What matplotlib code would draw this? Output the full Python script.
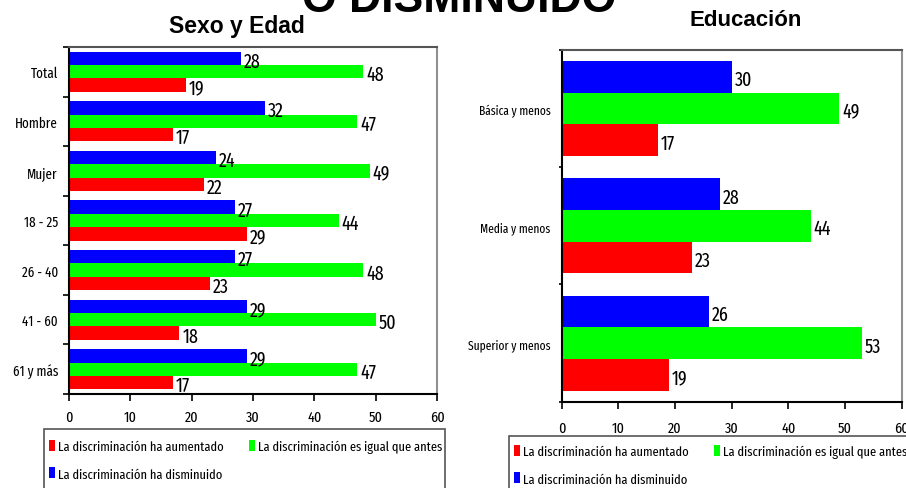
import numpy as np
import matplotlib.pyplot as plt
from matplotlib.patches import Rectangle
from matplotlib.ticker import FixedLocator

# data
sexo_cats = ["Total", "Hombre", "Mujer", "18 - 25", "26 - 40", "41 - 60", "61 y más"]
sexo_aumentado = [19, 17, 22, 29, 23, 18, 17]
sexo_igual = [48, 47, 49, 44, 48, 50, 47]
sexo_disminuido = [28, 32, 24, 27, 27, 29, 29]

edu_cats = ["Básica y menos", "Media y menos", "Superior y menos"]
edu_aumentado = [17, 23, 19]
edu_igual = [49, 44, 53]
edu_disminuido = [30, 28, 26]

series_names = ["La discriminación ha aumentado",
                "La discriminación es igual que antes",
                "La discriminación ha disminuido"]
x_ticks = [0, 10, 20, 30, 40, 50, 60]

RED, GREEN, BLUE = "#ff0000", "#00ff00", "#0000ff"
NARROW = ["Fira Sans Extra Condensed", "Barlow Condensed", "Archivo Narrow",
          "IBM Plex Sans Condensed", "DejaVu Sans"]
BOLD = ["Liberation Sans", "DejaVu Sans"]


def draw_panel(ax, cats, aum, igu, dis, cat_size, val_size, tick_len, xpad):
    n = len(cats)
    y = np.arange(n)
    h = 0.27
    bars_r = ax.barh(y + h, aum, height=h, color=RED)
    bars_g = ax.barh(y, igu, height=h, color=GREEN)
    bars_b = ax.barh(y - h, dis, height=h, color=BLUE)
    for bars in (bars_b, bars_g, bars_r):
        for b in bars:
            w = b.get_width()
            ax.annotate(f"{w:g}", (w, b.get_y() + b.get_height() / 2),
                        xytext=(2, -2), textcoords="offset points",
                        ha="left", va="center", fontsize=val_size, family=NARROW)
    ax.set_xlim(0, 60)
    ax.set_ylim(n - 0.5, -0.5)
    ax.set_xticks(x_ticks)
    ax.set_xticklabels([str(t) for t in x_ticks], family=NARROW, fontsize=11)
    ax.tick_params(axis="x", length=5, width=1.2, pad=xpad, direction="out")
    ax.set_yticks(y)
    ax.set_yticklabels(cats, family=NARROW, fontsize=cat_size)
    ax.tick_params(axis="y", which="major", length=0, pad=8)
    ax.yaxis.set_minor_locator(FixedLocator(np.arange(n + 1) - 0.5))
    ax.tick_params(axis="y", which="minor", length=tick_len, width=1.2, direction="out")
    ax.spines["left"].set_linewidth(1.5)
    ax.spines["bottom"].set_linewidth(1.5)
    ax.spines["top"].set_color("#555555")
    ax.spines["top"].set_linewidth(1.5)
    ax.spines["right"].set_color("#909090")
    ax.spines["right"].set_linewidth(1.5)
    return bars_r, bars_g, bars_b


fig = plt.figure(figsize=(9.06, 4.89), dpi=100)
W, H = 906.0, 489.0

ax1 = fig.add_axes([0.0762, 0.1922, 0.4062, 0.7096])
r1, g1, b1 = draw_panel(ax1, sexo_cats, sexo_aumentado, sexo_igual, sexo_disminuido,
                        10.2, 14, 4, 6)
fig.text(0.261, 0.945, "Sexo y Edad", ha="center", va="center",
         fontsize=16.5, fontweight="bold", family=BOLD)

ax2 = fig.add_axes([0.620, 0.1765, 0.3753, 0.7192])
r2, g2, b2 = draw_panel(ax2, edu_cats, edu_aumentado, edu_igual, edu_disminuido,
                        9, 14, 2, 9)
fig.text(0.823, 0.958, "Educación", ha="center", va="center",
         fontsize=16, fontweight="bold", family=BOLD)

# partly cut-off main title at the very top
fig.text(0.507, 0.975, "O DISMINUIDO", ha="center", va="baseline",
         fontsize=32, fontweight="bold", family=BOLD)

legend_kw = dict(ncol=2, frameon=False,
                 handlelength=0.44, handleheight=0.88, handletextpad=0.22,
                 columnspacing=1.9, labelspacing=1.07, borderpad=0,
                 borderaxespad=0, prop={"family": NARROW, "size": 9.7})
order = [0, 2, 1]

fig.legend([(r1, g1, b1)[i] for i in order], [series_names[i] for i in order],
           loc="upper left", bbox_to_anchor=(49 / W, 1 - 441 / H), **legend_kw)
fig.legend([(r2, g2, b2)[i] for i in order], [series_names[i] for i in order],
           loc="upper left", bbox_to_anchor=(514 / W, 1 - 446 / H), **legend_kw)

# legend boxes, running off the bottom (and right) edge as in the original
for x0, x1, top in [(44, 445, 430), (509, 960, 437)]:
    fig.patches.append(Rectangle((x0 / W, -0.1), (x1 - x0) / W, 0.1 + 1 - top / H,
                                 transform=fig.transFigure, fill=False,
                                 edgecolor="#555555", linewidth=1.2))

fig.savefig("out.png", dpi=100)
